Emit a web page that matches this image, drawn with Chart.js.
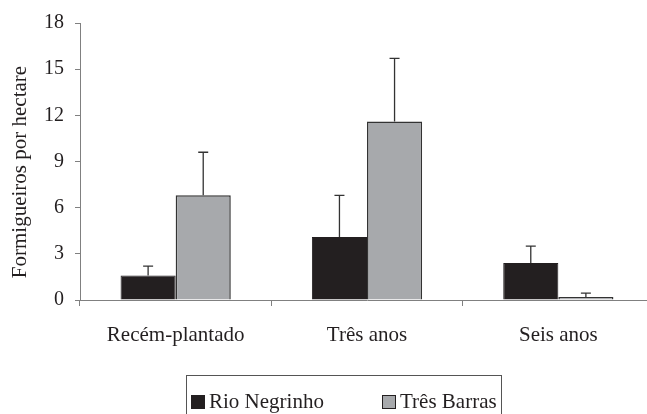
<!DOCTYPE html>
<html lang="pt">
<head>
<meta charset="utf-8">
<script src="https://cdn.jsdelivr.net/npm/chart.js@4.4.1/dist/chart.umd.min.js"></script>
<style>
  html, body { margin: 0; padding: 0; background: #fff; overflow: hidden; width: 647px; height: 414px; }
  #wrap { position: relative; width: 660px; height: 414px; }
  canvas { display: block; }
  #legend {
    position: absolute; left: 186px; top: 375px; width: 316px; height: 60px;
    border: 1px solid #555; box-sizing: border-box;
    font-family: "Liberation Serif", "Times New Roman", serif; font-size: 21px; color: #231f20;
  }
  .item { position: absolute; top: 13px; display: flex; align-items: center; white-space: nowrap; }
  .sw { width: 14px; height: 14px; box-sizing: border-box; border: 1px solid #231f20; margin-right: 4px; }
</style>
</head>
<body>
<div id="wrap">
  <canvas id="c" width="660" height="414"></canvas>
  <div id="legend"></div>
</div>
<script>
// Ant nests per hectare by plantation age, two sites
const categories = ['Recém-plantado', 'Três anos', 'Seis anos'];
const seriesNames = ['Rio Negrinho', 'Três Barras'];
const rioNegrinho = [1.6, 4.1, 2.4];
const tresBarras = [6.8, 11.6, 0.2];
// upper error (standard deviation) for each bar
const rioNegrinhoErr = [0.6, 2.7, 1.1];
const tresBarrasErr = [2.8, 4.1, 0.25];
const yTicks = [0, 3, 6, 9, 12, 15, 18];
const yTitle = 'Formigueiros por hectare';

const serif = '"Liberation Serif", "Times New Roman", serif';
const ink = '#231f20';
const axisGray = '#808080';
const fills = ['#231f20', '#a7a9ac'];

const errorBars = {
  id: 'errorBars',
  afterDatasetsDraw(chart) {
    const ctx = chart.ctx;
    const y = chart.scales.y;
    ctx.save();
    ctx.strokeStyle = '#333';
    ctx.lineWidth = 1.3;
    chart.data.datasets.forEach((ds, i) => {
      const meta = chart.getDatasetMeta(i);
      meta.data.forEach((bar, j) => {
        const top = y.getPixelForValue(ds.data[j] + ds.err[j]);
        ctx.beginPath();
        ctx.moveTo(bar.x, bar.y);
        ctx.lineTo(bar.x, top);
        ctx.moveTo(bar.x - 5, top);
        ctx.lineTo(bar.x + 5, top);
        ctx.stroke();
      });
    });
    ctx.restore();
  }
};

const axisTitle = {
  id: 'axisTitle',
  afterDraw(chart) {
    const ctx = chart.ctx;
    ctx.save();
    ctx.translate(20, 172);
    ctx.rotate(-Math.PI / 2);
    ctx.font = '21px ' + serif;
    ctx.fillStyle = ink;
    ctx.textAlign = 'center';
    ctx.textBaseline = 'middle';
    ctx.fillText(yTitle, 0, 0);
    ctx.restore();
  }
};

const chart = new Chart(document.getElementById('c'), {
  type: 'bar',
  data: {
    labels: categories,
    datasets: [
      { label: seriesNames[0], data: rioNegrinho, err: rioNegrinhoErr,
        backgroundColor: fills[0], borderColor: ink, borderWidth: 1 },
      { label: seriesNames[1], data: tresBarras, err: tresBarrasErr,
        backgroundColor: fills[1], borderColor: '#333', borderWidth: 1.5 }
    ]
  },
  options: {
    responsive: false,
    animation: false,
    devicePixelRatio: 1,
    layout: { padding: { top: 20, right: 6, left: 0, bottom: 0 } },
    datasets: { bar: { barPercentage: 1, categoryPercentage: 0.576 } },
    plugins: { legend: { display: false }, tooltip: { enabled: false } },
    scales: {
      x: {
        afterFit(s) { s.height = 114; },
        grid: { offset: true, drawOnChartArea: false, drawTicks: true, tickLength: 6, color: axisGray },
        border: { display: true, color: axisGray, width: 1 },
        ticks: { padding: 17, color: ink, font: { family: serif, size: 21 } }
      },
      y: {
        min: 0, max: 18,
        afterFit(s) { s.width = 80; },
        afterBuildTicks(s) { s.ticks = yTicks.map(v => ({ value: v })); },
        grid: { drawOnChartArea: false, drawTicks: true, tickLength: 5, color: axisGray },
        border: { display: true, color: axisGray, width: 1 },
        ticks: { padding: 11, color: ink, font: { family: serif, size: 20 } }
      }
    }
  },
  plugins: [errorBars, axisTitle]
});

// legend built from the chart's datasets
const legend = document.getElementById('legend');
const positions = [4, 195];
chart.data.datasets.forEach((ds, i) => {
  const item = document.createElement('div');
  item.className = 'item';
  item.style.left = positions[i] + 'px';
  const sw = document.createElement('span');
  sw.className = 'sw';
  sw.style.background = ds.backgroundColor;
  const txt = document.createElement('span');
  txt.textContent = ds.label;
  item.appendChild(sw);
  item.appendChild(txt);
  legend.appendChild(item);
});
</script>
</body>
</html>
